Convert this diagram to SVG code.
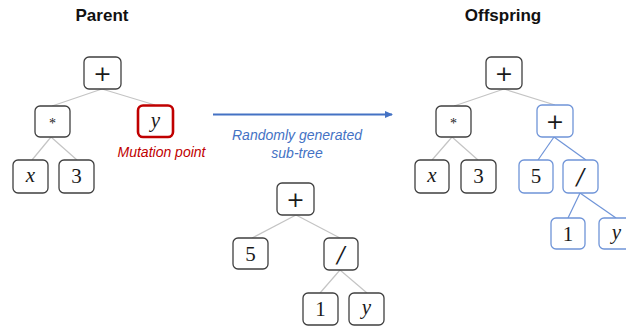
<svg xmlns="http://www.w3.org/2000/svg" width="626" height="326" viewBox="0 0 626 326">
  <defs>
    <style>
      .box { fill: #ffffff; stroke: #3f3f3f; stroke-width: 1.3; }
      .new { fill: #ffffff; stroke: #6f94d8; stroke-width: 1.3; }
      .mut { fill: #ffffff; stroke: #c00000; stroke-width: 2.6; }
      .sym { font-family: "Liberation Serif", "DejaVu Serif", serif; font-size: 21px; fill: #1a1a1a; text-anchor: middle; }
      .var { font-style: italic; }
      .op { font-family: "DejaVu Sans", "Liberation Sans", sans-serif; font-size: 22px; }
      .star { font-size: 14px; }
      .slash { font-family: "DejaVu Serif", serif; font-size: 22px; font-style: italic; }
      .title { font-family: "Liberation Sans", Arial, sans-serif; font-weight: bold; font-size: 17px; fill: #111111; text-anchor: middle; }
      .edge { stroke: #c4c4c4; stroke-width: 1.2; fill: none; }
      .edge-new { stroke: #6f94d8; stroke-width: 1.2; fill: none; }
      .note { font-family: "Liberation Sans", Arial, sans-serif; font-style: italic; font-size: 14px; text-anchor: middle; }
    </style>
    <marker id="arrowhead" markerWidth="8" markerHeight="8" refX="7" refY="4" orient="auto" markerUnits="userSpaceOnUse">
      <path d="M0,0.5 L8,4 L0,7.5 Z" fill="#4472c4"/>
    </marker>
  </defs>

  <!-- titles -->
  <text class="title" x="102" y="21">Parent</text>
  <text class="title" x="503" y="21">Offspring</text>

  <!-- connectors -->
  <g id="connectors">
    <!-- parent tree -->
    <line class="edge" x1="102" y1="89" x2="52" y2="106"/>
    <line class="edge" x1="102" y1="89" x2="155" y2="105"/>
    <line class="edge" x1="51" y1="137" x2="32" y2="160"/>
    <line class="edge" x1="51" y1="137" x2="77" y2="160"/>
    <!-- random sub-tree -->
    <line class="edge" x1="296" y1="215" x2="252" y2="238"/>
    <line class="edge" x1="296" y1="215" x2="340" y2="238"/>
    <line class="edge" x1="340" y1="270" x2="320" y2="293"/>
    <line class="edge" x1="340" y1="270" x2="367" y2="293"/>
    <!-- offspring tree -->
    <line class="edge" x1="504" y1="89" x2="454" y2="106"/>
    <line class="edge" x1="504" y1="89" x2="555" y2="105"/>
    <line class="edge" x1="452" y1="137" x2="432" y2="160"/>
    <line class="edge" x1="452" y1="137" x2="478" y2="160"/>
    <line class="edge-new" x1="554" y1="137" x2="538" y2="160"/>
    <line class="edge-new" x1="554" y1="137" x2="586" y2="160"/>
    <line class="edge-new" x1="580" y1="193" x2="568" y2="218"/>
    <line class="edge-new" x1="580" y1="193" x2="616" y2="218"/>
    <!-- mutation arrow -->
    <line x1="213" y1="114.5" x2="392" y2="114.5" stroke="#4472c4" stroke-width="2" marker-end="url(#arrowhead)"/>
  </g>

  <!-- parent tree nodes -->
  <g id="p-plus"><rect class="box" x="84" y="57" width="37" height="32" rx="5"/><text class="sym op" x="102.5" y="81">+</text></g>
  <g id="p-mul"><rect class="box" x="35" y="106" width="35" height="31" rx="5"/><text class="sym star" x="52.5" y="128">*</text></g>
  <g id="p-y"><rect class="mut" x="138" y="105.5" width="35" height="31.5" rx="5"/><text class="sym var" x="155.5" y="127">y</text></g>
  <g id="p-x"><rect class="box" x="13" y="160" width="35" height="33" rx="5"/><text class="sym var" x="30.5" y="182">x</text></g>
  <g id="p-3"><rect class="box" x="59" y="160" width="35" height="33" rx="5"/><text class="sym" x="76.5" y="183">3</text></g>

  <g id="mutation-label"><text class="note" x="161.5" y="157" fill="#c00000" font-size="15">Mutation point</text></g>
  <g id="subtree-label">
    <text class="note" x="297" y="140" fill="#4472c4">Randomly generated</text>
    <text class="note" x="297" y="158" fill="#4472c4">sub-tree</text>
  </g>

  <!-- random sub-tree nodes -->
  <g id="s-plus"><rect class="box" x="277" y="183" width="37" height="32" rx="5"/><text class="sym op" x="295.5" y="207">+</text></g>
  <g id="s-5"><rect class="box" x="233" y="238" width="35" height="31" rx="5"/><text class="sym" x="250.5" y="261">5</text></g>
  <g id="s-div"><rect class="box" x="324" y="238" width="34" height="32" rx="5"/><text class="sym slash" x="341" y="262">/</text></g>
  <g id="s-1"><rect class="box" x="303" y="293" width="35" height="32" rx="5"/><text class="sym" x="320.5" y="316">1</text></g>
  <g id="s-y"><rect class="box" x="349" y="293" width="35" height="32" rx="5"/><text class="sym var" x="366.5" y="314">y</text></g>

  <!-- offspring tree nodes -->
  <g id="o-plus"><rect class="box" x="486" y="57" width="36" height="32" rx="5"/><text class="sym op" x="504" y="81">+</text></g>
  <g id="o-mul"><rect class="box" x="436" y="106" width="35" height="31" rx="5"/><text class="sym star" x="453.5" y="128">*</text></g>
  <g id="o-plus2"><rect class="new" x="537" y="105" width="36" height="32" rx="5"/><text class="sym op" x="555" y="129">+</text></g>
  <g id="o-x"><rect class="box" x="415" y="160" width="34" height="33" rx="5"/><text class="sym var" x="432" y="182">x</text></g>
  <g id="o-3"><rect class="box" x="461" y="160" width="35" height="33" rx="5"/><text class="sym" x="478.5" y="183">3</text></g>
  <g id="o-5"><rect class="new" x="519" y="160" width="34" height="33" rx="5"/><text class="sym" x="536" y="183">5</text></g>
  <g id="o-div"><rect class="new" x="563" y="160" width="35" height="33" rx="5"/><text class="sym slash" x="580.5" y="184">/</text></g>
  <g id="o-1"><rect class="new" x="551" y="218" width="34" height="31" rx="5"/><text class="sym" x="568" y="241">1</text></g>
  <g id="o-y"><rect class="new" x="599" y="218" width="35" height="31" rx="5"/><text class="sym var" x="616.5" y="239">y</text></g>
</svg>
